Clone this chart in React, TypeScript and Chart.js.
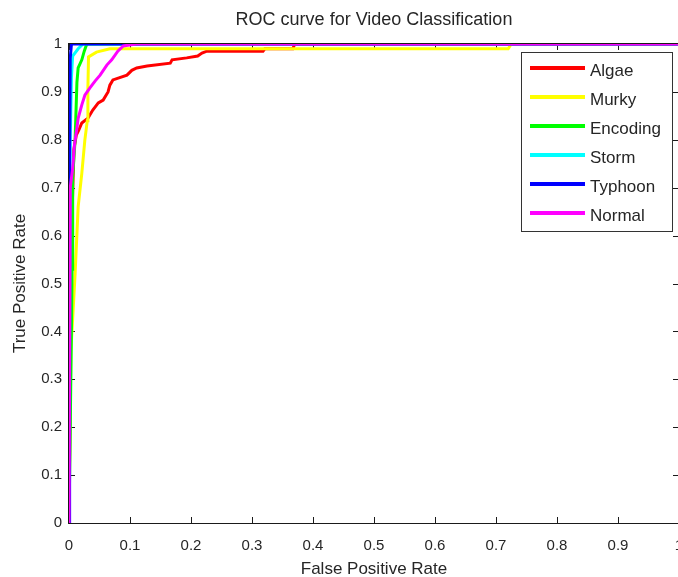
import React, { useEffect, useRef } from 'react';
import { Chart, registerables } from 'chart.js';

Chart.register(...registerables);

const seriesNames = ['Algae', 'Murky', 'Encoding', 'Storm', 'Typhoon', 'Normal'];
const seriesColors = ['#ff0000', '#ffff00', '#00ff00', '#00ffff', '#0000ff', '#ff00ff'];

const algaeFpr = [0, 0.004, 0.008, 0.012, 0.016, 0.021, 0.031, 0.039, 0.048, 0.056, 0.064, 0.067, 0.072, 0.095, 0.103, 0.111, 0.128, 0.166, 0.169, 0.193, 0.211, 0.218, 0.226, 0.318, 0.321, 0.367, 0.37, 1];
const algaeTpr = [0, 0.6, 0.78, 0.81, 0.82, 0.835, 0.845, 0.862, 0.877, 0.883, 0.9, 0.914, 0.925, 0.935, 0.945, 0.95, 0.954, 0.96, 0.967, 0.971, 0.975, 0.981, 0.985, 0.985, 0.99, 0.99, 1, 1];

const murkyFpr = [0, 0.003, 0.004, 0.01, 0.015, 0.021, 0.026, 0.03, 0.031, 0.032, 0.045, 0.067, 0.72, 0.725, 1];
const murkyTpr = [0, 0.36, 0.38, 0.52, 0.66, 0.73, 0.8, 0.84, 0.908, 0.973, 0.983, 0.99, 0.99, 1, 1];

const encodingFpr = [0, 0.004, 0.005, 0.006, 0.01, 0.013, 0.015, 0.021, 0.025, 0.028, 0.03, 1];
const encodingTpr = [0, 0.4, 0.53, 0.72, 0.8, 0.92, 0.95, 0.967, 0.985, 0.996, 1, 1];

const stormFpr = [0, 0.002, 0.004, 0.006, 0.015, 0.023, 1];
const stormTpr = [0, 0.8, 0.93, 0.975, 0.99, 1, 1];

const typhoonFpr = [0, 0.001, 0.002, 0.004, 1];
const typhoonTpr = [0, 0.75, 0.97, 1, 1];

const normalFpr = [0, 0.002, 0.006, 0.009, 0.013, 0.015, 0.021, 0.026, 0.034, 0.043, 0.051, 0.062, 0.07, 0.08, 0.089, 0.11, 1];
const normalTpr = [0, 0.7, 0.74, 0.79, 0.825, 0.845, 0.873, 0.893, 0.908, 0.923, 0.935, 0.956, 0.967, 0.985, 0.996, 1, 1];

const seriesFpr = [algaeFpr, murkyFpr, encodingFpr, stormFpr, typhoonFpr, normalFpr];
const seriesTpr = [algaeTpr, murkyTpr, encodingTpr, stormTpr, typhoonTpr, normalTpr];

const xTickValues = [0, 0.1, 0.2, 0.3, 0.4, 0.5, 0.6, 0.7, 0.8, 0.9, 1];
const xTickLabels = ['0', '0.1', '0.2', '0.3', '0.4', '0.5', '0.6', '0.7', '0.8', '0.9', '1'];
const yTickValues = [0, 0.1, 0.2, 0.3, 0.4, 0.5, 0.6, 0.7, 0.8, 0.9, 1];
const yTickLabels = ['0', '0.1', '0.2', '0.3', '0.4', '0.5', '0.6', '0.7', '0.8', '0.9', '1'];

const titleText = 'ROC curve for Video Classification';
const xAxisLabel = 'False Positive Rate';
const yAxisLabel = 'True Positive Rate';

const FONT = "'Liberation Sans', Arial, Helvetica, sans-serif";
const TEXT = '#262626';
const AXIS = '#1a1a1a';

const decorPlugin = {
  id: 'decor',
  beforeDatasetsDraw(chart: any) {
    const ctx = chart.ctx;
    const a = chart.chartArea;
    const xs = chart.scales.x;
    const ys = chart.scales.y;
    const len = 6;
    ctx.save();
    ctx.strokeStyle = AXIS;
    ctx.lineWidth = 1;
    ctx.beginPath();
    xTickValues.forEach((v) => {
      const x = Math.round(xs.getPixelForValue(v)) + 0.5;
      ctx.moveTo(x, a.bottom);
      ctx.lineTo(x, a.bottom - len);
      ctx.moveTo(x, a.top);
      ctx.lineTo(x, a.top + len);
    });
    yTickValues.forEach((v) => {
      const y = Math.round(ys.getPixelForValue(v)) + 0.5;
      ctx.moveTo(a.left, y);
      ctx.lineTo(a.left + len, y);
      ctx.moveTo(a.right, y);
      ctx.lineTo(a.right - len, y);
    });
    ctx.stroke();
    ctx.restore();
  },
  afterDatasetsDraw(chart: any) {
    const ctx = chart.ctx;
    const a = chart.chartArea;
    ctx.save();
    ctx.strokeStyle = AXIS;
    ctx.lineWidth = 1;
    ctx.strokeRect(Math.round(a.left) - 0.5, Math.round(a.top) - 0.5, Math.round(a.right - a.left) + 1, Math.round(a.bottom - a.top) + 1);

    // legend box
    const lx = 521, ly = 52, lw = 151, lh = 179;
    ctx.fillStyle = '#ffffff';
    ctx.fillRect(lx, ly, lw, lh);
    ctx.strokeStyle = '#333333';
    ctx.strokeRect(lx + 0.5, ly + 0.5, lw, lh);
    ctx.font = `17px ${FONT}`;
    ctx.textAlign = 'left';
    ctx.textBaseline = 'middle';
    seriesNames.forEach((name, i) => {
      const y = 68 + i * 29;
      ctx.strokeStyle = seriesColors[i];
      ctx.lineWidth = 4;
      ctx.beginPath();
      ctx.moveTo(530, y);
      ctx.lineTo(585, y);
      ctx.stroke();
      ctx.fillStyle = TEXT;
      ctx.fillText(name, 590, y + 3);
    });
    ctx.restore();
  },
  afterDraw(chart: any) {
    const ctx = chart.ctx;
    const a = chart.chartArea;
    const cx = (a.left + a.right) / 2;
    ctx.save();
    ctx.fillStyle = TEXT;
    ctx.textAlign = 'center';
    ctx.textBaseline = 'middle';
    ctx.font = `18px ${FONT}`;
    ctx.fillText(titleText, cx, 20);
    ctx.font = `17px ${FONT}`;
    ctx.fillText(xAxisLabel, cx, 569);
    ctx.translate(20, (a.top + a.bottom) / 2);
    ctx.rotate(-Math.PI / 2);
    ctx.fillText(yAxisLabel, 0, 0);
    ctx.restore();
  },
};

export default function App() {
  const canvasRef = useRef<HTMLCanvasElement | null>(null);

  useEffect(() => {
    const canvas = canvasRef.current;
    if (!canvas) return;
    const datasets = seriesNames.map((name, i) => ({
      label: name,
      data: seriesFpr[i].map((x, j) => ({ x, y: seriesTpr[i][j] })),
      borderColor: seriesColors[i],
      backgroundColor: seriesColors[i],
      borderWidth: 3,
      pointRadius: 0,
      fill: false,
      tension: 0,
      order: seriesNames.length - 1 - i,
    }));
    const chart = new Chart(canvas, {
      type: 'line',
      data: { datasets },
      options: {
        responsive: false,
        animation: false,
        devicePixelRatio: 1,
        layout: { padding: { top: 44, right: 11, left: 0, bottom: 0 } },
        plugins: {
          legend: { display: false },
          tooltip: { enabled: false },
          title: { display: false },
        },
        scales: {
          x: {
            type: 'linear',
            min: 0,
            max: 1,
            afterBuildTicks: (s: any) => {
              s.ticks = xTickValues.map((v) => ({ value: v }));
            },
            afterFit: (s: any) => {
              s.height = 54;
              s.paddingLeft = 0;
              s.paddingRight = 0;
            },
            grid: { display: false, drawTicks: false },
            border: { display: false },
            ticks: {
              autoSkip: false,
              maxRotation: 0,
              padding: 14,
              color: TEXT,
              font: { family: FONT, size: 15 },
              callback: (_v: any, i: number) => xTickLabels[i],
            },
          },
          y: {
            type: 'linear',
            min: 0,
            max: 1,
            afterBuildTicks: (s: any) => {
              s.ticks = yTickValues.map((v) => ({ value: v }));
            },
            afterFit: (s: any) => {
              s.width = 69;
              s.paddingTop = 0;
              s.paddingBottom = 0;
            },
            grid: { display: false, drawTicks: false },
            border: { display: false },
            ticks: {
              autoSkip: false,
              padding: 7,
              color: TEXT,
              font: { family: FONT, size: 15 },
              callback: (_v: any, i: number) => yTickLabels[i],
            },
          },
        },
      } as any,
      plugins: [decorPlugin],
    });
    return () => chart.destroy();
  }, []);

  return (
    <div style={{ position: 'absolute', left: 0, top: 0, width: 678, height: 577, overflow: 'hidden', background: '#ffffff' }}>
      <canvas ref={canvasRef} width={690} height={577} style={{ display: 'block' }} />
    </div>
  );
}
